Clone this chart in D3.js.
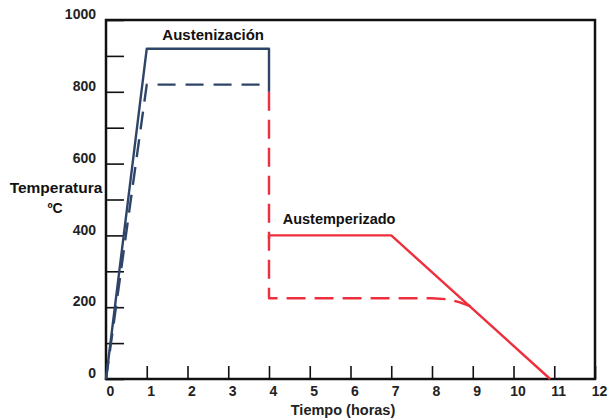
<!DOCTYPE html>
<html>
<head>
<meta charset="utf-8">
<script src="https://cdn.jsdelivr.net/npm/d3@7"></script>
<style>
  body { margin: 0; background: #fff; }
  svg { font-family: "Liberation Sans", Arial, sans-serif; }
  .axis text { font-size: 14px; font-weight: bold; fill: #222; }
  .axis path { display: none; }
  .axis line { stroke: #111; stroke-width: 1.6; }
</style>
</head>
<body>
<svg id="chart"></svg>
<script>
// Temperature (°C) vs time (hours)
const xTicks = [0, 1, 2, 3, 4, 5, 6, 7, 8, 9, 10, 11, 12];
const yTicks = [0, 100, 200, 300, 400, 500, 600, 700, 800, 900, 1000];

const navySolidT = [0, 1, 4, 4];
const navySolidC = [0, 920, 920, 800];
const navyDashT = [0, 1, 4];
const navyDashC = [0, 820, 820];
const redSolidT = [4, 4, 7, 10.9];
const redSolidC = [390, 400, 400, 0];
const redDashT = [4, 4, 8, 8.4, 8.7, 8.95];
const redDashC = [800, 225, 225, 222, 213, 202];

const labels = [
  {text: 'Austenización', t: 2.63, c: 945, size: 15},
  {text: 'Austemperizado', t: 5.72, c: 432, size: 14.5}
];

const width = 610, height = 420;
const margin = {top: 20, right: 15, bottom: 41, left: 106};

const svg = d3.select('#chart')
  .attr('width', width)
  .attr('height', height);

const xScale = d3.scaleLinear().domain([0, 12]).range([margin.left, width - margin.right]);
const yScale = d3.scaleLinear().domain([0, 1000]).range([height - margin.bottom, margin.top]);

// ticks point inward
const xAxis = d3.axisBottom(xScale).tickValues(xTicks).tickSize(-13).tickPadding(7);
const yAxis = d3.axisLeft(yScale).tickValues(yTicks).tickSize(-18).tickPadding(10)
  .tickFormat(d => d % 200 === 0 ? d : '');

svg.append('g')
  .attr('class', 'axis x-axis')
  .attr('transform', `translate(0,${yScale(0)})`)
  .call(xAxis)
  .selectAll('text').attr('dx', 4);

svg.append('g')
  .attr('class', 'axis y-axis')
  .attr('transform', `translate(${xScale(0)},0)`)
  .call(yAxis)
  .selectAll('text').attr('dy', '-0.1em');

// frame
svg.append('rect')
  .attr('x', xScale(0))
  .attr('y', yScale(1000))
  .attr('width', xScale(12) - xScale(0))
  .attr('height', yScale(0) - yScale(1000))
  .attr('fill', 'none')
  .attr('stroke', '#111')
  .attr('stroke-width', 2.5);

const line = d3.line().x(d => xScale(d[0])).y(d => yScale(d[1]));

function drawLine(ts, cs, color, dash) {
  svg.append('path')
    .datum(d3.zip(ts, cs))
    .attr('d', line)
    .attr('fill', 'none')
    .attr('stroke', color)
    .attr('stroke-width', 2.4)
    .attr('stroke-linejoin', 'round')
    .attr('stroke-dasharray', dash || null);
}

drawLine(redDashT, redDashC, '#ee2f3d', '19,9');
drawLine(redSolidT, redSolidC, '#ee2f3d');
drawLine(navyDashT, navyDashC, '#2e4468', '18,10');
drawLine(navySolidT, navySolidC, '#2e4468');

svg.selectAll('.curve-label')
  .data(labels)
  .join('text')
  .attr('class', 'curve-label')
  .attr('x', d => xScale(d.t))
  .attr('y', d => yScale(d.c))
  .attr('text-anchor', 'middle')
  .attr('font-size', d => d.size)
  .attr('font-weight', 'bold')
  .attr('fill', '#111')
  .text(d => d.text);

// axis titles
svg.append('text')
  .attr('x', 56).attr('y', 193)
  .attr('text-anchor', 'middle')
  .attr('font-size', 15.5).attr('font-weight', 'bold').attr('fill', '#111')
  .text('Temperatura');
svg.append('text')
  .attr('x', 55).attr('y', 213)
  .attr('text-anchor', 'middle')
  .attr('font-size', 14).attr('font-weight', 'bold').attr('fill', '#111')
  .text('ºC');

svg.append('text')
  .attr('x', 343).attr('y', 415)
  .attr('text-anchor', 'middle')
  .attr('font-size', 14.5).attr('font-weight', 'bold').attr('fill', '#222')
  .text('Tiempo (horas)');
</script>
</body>
</html>
